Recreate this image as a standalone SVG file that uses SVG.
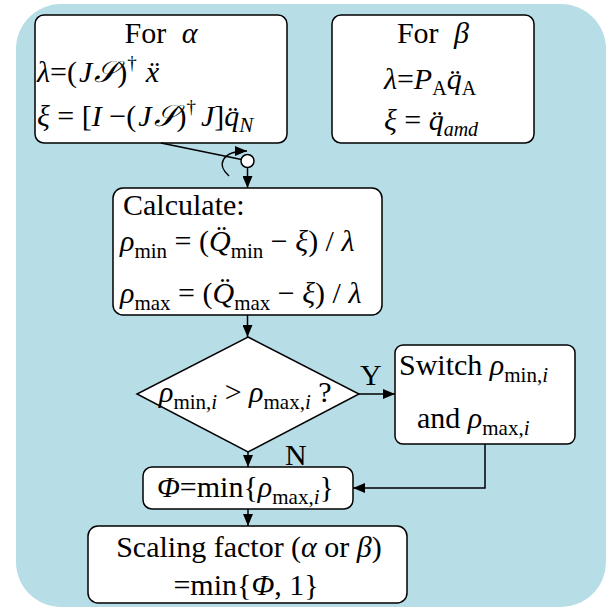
<svg xmlns="http://www.w3.org/2000/svg" width="608" height="608" viewBox="0 0 608 608">
<style>
.t{font-family:"Liberation Serif","Times New Roman","DejaVu Serif",serif;font-size:30px;fill:#000}
.i{font-style:italic}
.box{fill:#fff;stroke:#000;stroke-width:1.5}
.c{fill:none;stroke:#000;stroke-width:1.5}
</style>
<defs>
<marker id="ah" markerUnits="userSpaceOnUse" markerWidth="13" markerHeight="10" refX="12" refY="5" orient="auto">
<path d="M0,0 L12,5 L0,10 z" fill="#000"/>
</marker>
</defs>
<rect x="16" y="4" width="590" height="603" rx="45" ry="45" fill="#b7dde7"/>

<g id="alpha">
<rect class="box" x="35" y="15" width="252" height="128" rx="9"/>
<text class="t" x="161" y="43" text-anchor="middle" font-size="31">For <tspan class="i" dx="8">α</tspan></text>
<text class="t" x="37" y="82" font-size="32"><tspan class="i">λ</tspan>=(<tspan class="i" dx="2">J</tspan><tspan class="i" dx="2">𝒮</tspan>)<tspan font-size="19" dy="-13">†</tspan><tspan class="i" dy="13" dx="9">ẍ</tspan></text>
<text class="t" x="37" y="126" font-size="31.5"><tspan class="i">ξ</tspan> = [<tspan class="i">I</tspan> −(<tspan class="i" dx="2">J</tspan><tspan class="i" dx="2">𝒮</tspan>)<tspan font-size="19" dy="-13">†</tspan><tspan class="i" dy="13" dx="5">J</tspan>]<tspan class="i">q̈</tspan><tspan class="i" font-size="21" dy="6">N</tspan></text>
</g>

<g id="beta">
<rect class="box" x="332" y="15" width="202" height="128" rx="9"/>
<text class="t" x="433" y="43" text-anchor="middle" font-size="31">For <tspan class="i" dx="8">β</tspan></text>
<text class="t" x="430" y="89" text-anchor="middle"><tspan class="i">λ</tspan>=<tspan class="i">P</tspan><tspan font-size="20" dy="6">A</tspan><tspan class="i" dy="-6">q̈</tspan><tspan font-size="20" dy="6">A</tspan></text>
<text class="t" x="431" y="130" text-anchor="middle"><tspan class="i">ξ</tspan> = <tspan class="i">q̈</tspan><tspan class="i" font-size="20" dy="6">amd</tspan></text>
</g>

<g id="calculate">
<rect class="box" x="113" y="188" width="269" height="127" rx="10"/>
<text class="t" x="123" y="215" font-size="32">Calculate:</text>
<text class="t" x="120" y="251" font-size="32"><tspan class="i">ρ</tspan><tspan font-size="21" dy="7">min</tspan><tspan dy="-7"> = (</tspan><tspan class="i">Q̈</tspan><tspan font-size="21" dy="7">min</tspan><tspan dy="-7"> − </tspan><tspan class="i">ξ</tspan>) / <tspan class="i">λ</tspan></text>
<text class="t" x="120" y="303" font-size="32"><tspan class="i">ρ</tspan><tspan font-size="21" dy="7">max</tspan><tspan dy="-7"> = (</tspan><tspan class="i">Q̈</tspan><tspan font-size="21" dy="7">max</tspan><tspan dy="-7"> − </tspan><tspan class="i">ξ</tspan>) / <tspan class="i">λ</tspan></text>
</g>

<g id="decision">
<polygon class="box" points="248,337 359,394 248,452 137,394"/>
<text class="t" x="159" y="402" font-size="31"><tspan class="i">ρ</tspan><tspan font-size="21" dy="7">min,<tspan class="i">i</tspan></tspan><tspan dy="-7"> &gt; </tspan><tspan class="i">ρ</tspan><tspan font-size="21" dy="7">max,<tspan class="i">i</tspan></tspan><tspan dy="-7"> ?</tspan></text>
</g>

<g id="switch">
<rect class="box" x="395" y="345" width="180" height="99" rx="8"/>
<text class="t" x="399" y="375" font-size="32">Switch <tspan class="i">ρ</tspan><tspan font-size="21" dy="7">min,<tspan class="i">i</tspan></tspan></text>
<text class="t" x="417" y="428" font-size="32">and <tspan class="i">ρ</tspan><tspan font-size="21" dy="7">max,<tspan class="i">i</tspan></tspan></text>
</g>

<g id="phi">
<rect class="box" x="143" y="467" width="210" height="42" rx="9"/>
<text class="t" x="157" y="497" font-size="32"><tspan class="i">Φ</tspan>=min{<tspan class="i">ρ</tspan><tspan font-size="21" dy="7">max,<tspan class="i">i</tspan></tspan><tspan dy="-7">}</tspan></text>
</g>

<g id="scaling">
<rect class="box" x="88" y="526" width="319" height="77" rx="10"/>
<text class="t" x="249" y="557" font-size="32" text-anchor="middle">Scaling factor (<tspan class="i">α</tspan> or <tspan class="i">β</tspan>)</text>
<text class="t" x="246" y="595" font-size="32" text-anchor="middle">=min{<tspan class="i">Φ</tspan>, 1}</text>
</g>

<g id="connectors">
<line class="c" x1="161" y1="143" x2="241.5" y2="159.5"/>
<path class="c" d="M229,176 C217,166 220,151 247,151" marker-end="url(#ah)"/>
<circle cx="247.5" cy="161" r="6.5" fill="#fff" stroke="#000" stroke-width="1.5"/>
<path class="c" d="M247.5,167.5 V188" marker-end="url(#ah)"/>
<path class="c" d="M247.5,315 V337" marker-end="url(#ah)"/>
<path class="c" d="M359,394 H395" marker-end="url(#ah)"/>
<path class="c" d="M248,452 V467" marker-end="url(#ah)"/>
<path class="c" d="M485,444 V488 H353" marker-end="url(#ah)"/>
<path class="c" d="M248,509 V526" marker-end="url(#ah)"/>
<text class="t" x="360" y="385" font-size="30">Y</text>
<text class="t" x="285" y="465" font-size="30">N</text>
</g>
</svg>
